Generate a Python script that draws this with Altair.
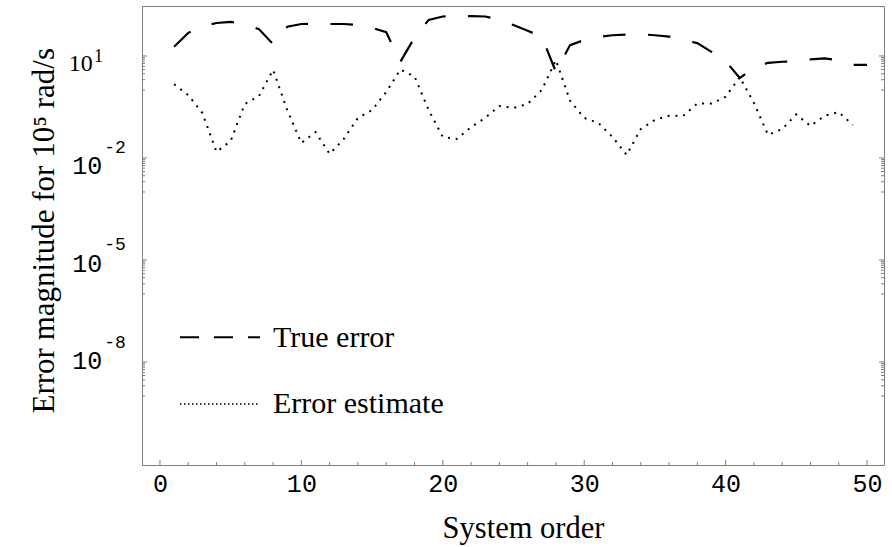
import altair as alt
import pandas as pd

# ---------------- data ----------------
orders_true = list(range(1, 51))
true_error = [18.6, 47.9, 75.9, 93.3, 100, 87.1, 61.7, 22.4, 72.4, 87.1,
              89.1, 87.1, 87.1, 81.3, 67.6, 50.1, 6.76, 34.7, 115, 145,
              151, 148, 145, 117, 81.3, 55.0, 37.2, 3.39, 20.9, 29.5,
              36.3, 40.7, 42.7, 43.7, 40.7, 37.2, 29.5, 24.0, 13.2, 7.08,
              2.24, 4.47, 6.31, 6.76, 6.92, 7.94, 8.51, 7.41, 5.50, 5.50]

orders_est = list(range(1, 50))
error_estimate = [1.48, 0.708, 0.209, 0.0151, 0.0316, 0.389, 0.661, 3.89, 0.257, 0.0275,
                  0.0575, 0.0132, 0.0363, 0.151, 0.257, 0.871, 3.98, 2.51, 0.257, 0.0417,
                  0.0363, 0.0813, 0.151, 0.339, 0.295, 0.389, 1.0, 7.59, 0.479, 0.151,
                  0.107, 0.0417, 0.0123, 0.0708, 0.132, 0.174, 0.174, 0.398, 0.398, 0.631,
                  2.40, 0.417, 0.0479, 0.0708, 0.191, 0.0871, 0.174, 0.224, 0.0933]

x_tick_labels = [0, 10, 20, 30, 40, 50]
x_minor_ticks = [v for v in range(0, 51, 2) if v % 10 != 0]
y_label_values = [10, 1e-2, 1e-5, 1e-8]
y_label_exponents = ["1", "-2", "-5", "-8"]
y_minor_ticks = [m * v / 10 for v in y_label_values for m in range(1, 10)]
legend_labels = ["True error", "Error estimate"]
x_title = "System order"
y_title = "Error magnitude for 10\u2075 rad/s"

# ---------------- layout ----------------
W, H = 742, 459
GRAY = "#808080"
SERIF = "Liberation Serif"
MONO = "Liberation Mono"

xscale = alt.Scale(domain=[-1.27, 51.2], nice=False, zero=False)
yscale = alt.Scale(type="log", domain=[10 ** -11.03, 10 ** 2.47], nice=False)

df_true = pd.DataFrame({"order": orders_true, "err": true_error})
df_est = pd.DataFrame({"order": orders_est, "err": error_estimate})

x_axis = alt.Axis(values=x_tick_labels, labelFont=MONO, labelFontSize=25, labelColor="black",
                  ticks=False, tickSize=0, domain=False, grid=False, labelPadding=6,
                  labelFlush=False, labelOverlap=False,
                  title=x_title, titleFont=SERIF, titleFontSize=30.5, titleFontWeight="normal",
                  titleColor="black", titleX=381, titleY=72.5, titleBaseline="alphabetic",
                  titleAlign="center")
y_axis = alt.Axis(labels=False, ticks=False, domain=False, grid=False,
                  title=y_title, titleFont=SERIF, titleFontSize=31, titleFontWeight="normal",
                  titleColor="black", titleX=-89, titleY=407, titleAngle=270,
                  titleBaseline="alphabetic", titleAlign="left")


def X(field):
    return alt.X(field, scale=xscale, axis=x_axis)


def Y(field):
    return alt.Y(field, scale=yscale, axis=y_axis)


line_true = alt.Chart(df_true).mark_line(
    color="black", strokeWidth=2.2, strokeDash=[22.5, 22.5], strokeCap="butt"
).encode(x=X("order:Q"), y=Y("err:Q"))

line_est = alt.Chart(df_est).mark_line(
    color="black", strokeWidth=2, strokeDash=[2, 5.8], strokeCap="butt"
).encode(x=X("order:Q"), y=Y("err:Q"))

layers = [line_true, line_est]

# x ticks (inward)
layers.append(alt.Chart(pd.DataFrame({"order": x_tick_labels})).mark_rule(color=GRAY, strokeWidth=1).encode(
    x=X("order:Q"), y=alt.value(H), y2=alt.value(H - 5)))
layers.append(alt.Chart(pd.DataFrame({"order": x_minor_ticks})).mark_rule(color=GRAY, strokeWidth=1).encode(
    x=X("order:Q"), y=alt.value(H), y2=alt.value(H - 3)))

# y ticks (inward, both sides)
df_ymaj = pd.DataFrame({"err": y_label_values})
df_ymin = pd.DataFrame({"err": y_minor_ticks})
for df, ln in [(df_ymaj, 5), (df_ymin, 3)]:
    layers.append(alt.Chart(df).mark_rule(color=GRAY, strokeWidth=1).encode(
        y=Y("err:Q"), x=alt.value(0), x2=alt.value(ln)))
    layers.append(alt.Chart(df).mark_rule(color=GRAY, strokeWidth=1).encode(
        y=Y("err:Q"), x=alt.value(W), x2=alt.value(W - ln)))

# y tick labels: "10" with a raised exponent
label_fonts = [SERIF, MONO, MONO, MONO]
base_sizes = [24, 25, 25, 25]
exp_sizes = [18, 18, 18, 18]
base_dx = [-49.3, -39.7, -39.7, -39.7]
exp_dx = [-48, -37.8, -37.8, -37.8]
base_dy = [14.7, 15.8, 12.1, 7.4]
exp_dy = [6.3, -5, -9.5, -14]
for i, (val, ex) in enumerate(zip(y_label_values, y_label_exponents)):
    d = pd.DataFrame({"err": [val], "base": ["10"], "exp": [ex]})
    layers.append(alt.Chart(d).mark_text(
        font=label_fonts[i], fontSize=base_sizes[i], align="right", baseline="alphabetic",
        dy=base_dy[i], color="black"
    ).encode(y=Y("err:Q"), x=alt.value(base_dx[i]), text="base:N"))
    layers.append(alt.Chart(d).mark_text(
        font=label_fonts[i], fontSize=exp_sizes[i], align="left", baseline="alphabetic",
        dy=exp_dy[i], color="black"
    ).encode(y=Y("err:Q"), x=alt.value(exp_dx[i]), text="exp:N"))

# legend (inside the frame)
dummy = pd.DataFrame({"t": [legend_labels[0]]})
layers.append(alt.Chart(dummy).mark_rule(color="black", strokeWidth=2, strokeDash=[19, 15]).encode(
    x=alt.value(38), x2=alt.value(118), y=alt.value(331.3)))
layers.append(alt.Chart(dummy).mark_text(font=SERIF, fontSize=30, align="left",
                                         baseline="alphabetic", color="black").encode(
    x=alt.value(131), y=alt.value(341.3), text="t:N"))
dummy2 = pd.DataFrame({"t": [legend_labels[1]]})
layers.append(alt.Chart(dummy2).mark_rule(color="black", strokeWidth=1.6, strokeDash=[1.5, 2.5]).encode(
    x=alt.value(38), x2=alt.value(118), y=alt.value(398)))
layers.append(alt.Chart(dummy2).mark_text(font=SERIF, fontSize=30, align="left",
                                          baseline="alphabetic", color="black").encode(
    x=alt.value(131), y=alt.value(406.7), text="t:N"))

chart = alt.layer(*layers).properties(
    width=W, height=H,
    padding={"left": 142, "top": 6, "right": 8, "bottom": 82},
    autosize=alt.AutoSizeParams(type="none"),
    background="white",
).configure_view(stroke=GRAY, strokeWidth=1)

chart.save("out.html", embed_options={"renderer": "svg", "actions": False})
